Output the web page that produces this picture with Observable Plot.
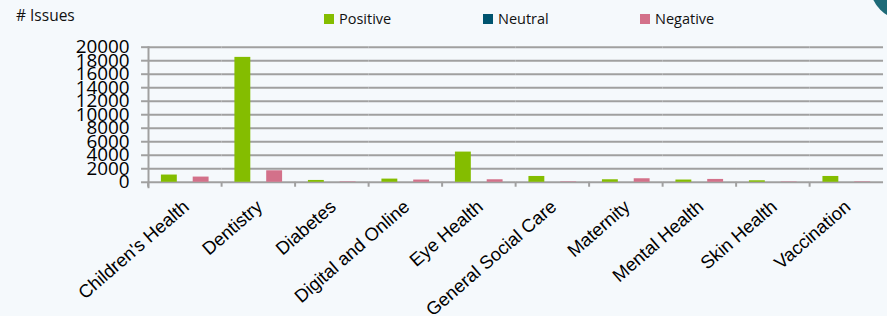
<!DOCTYPE html>
<html>
<head>
<meta charset="utf-8">
<script src="https://cdn.jsdelivr.net/npm/d3@7"></script>
<script src="https://cdn.jsdelivr.net/npm/@observablehq/plot@0.6"></script>
<style>
  html, body { margin: 0; padding: 0; background: #f5f9fc; }
  #wrap { position: relative; width: 887px; height: 316px; overflow: hidden; background: #f5f9fc; }
  #ylabel { position: absolute; left: 16px; top: 4px; font: 15.5px "Open Sans", sans-serif; color: #111; }
  .leg { position: absolute; top: 9px; font: 14.5px "Open Sans", sans-serif; color: #111; display: flex; align-items: center; }
  .leg span.sw { display: inline-block; width: 10px; height: 10px; margin-right: 5px; }
  #blob { position: absolute; left: 870px; top: -50px; width: 70px; height: 70px; border-radius: 50%; background: #1e6b78; }
  #chart { position: absolute; left: 0; top: 0; }
</style>
</head>
<body>
<div id="wrap">
  <div id="ylabel"># Issues</div>
  <div id="legend"></div>
  <div id="chart"></div>
  <div id="blob"></div>
</div>
<script>
const categories = ["Children's Health", "Dentistry", "Diabetes", "Digital and Online", "Eye Health", "General Social Care", "Maternity", "Mental Health", "Skin Health", "Vaccination"];
const series = ["Positive", "Neutral", "Negative"];
const positive = [1070, 18490, 270, 470, 4470, 860, 370, 330, 220, 860];
const neutral  = [0, 0, 0, 0, 0, 0, 0, 0, 0, 0];
const negative = [770, 1700, 60, 330, 370, 60, 520, 420, 50, 60];
const colors = ["#84bd00", "#00546f", "#d3718a"];
const yTicks = [0, 2000, 4000, 6000, 8000, 10000, 12000, 14000, 16000, 18000, 20000];

const rows = [];
const vals = [positive, neutral, negative];
categories.forEach((c, i) => series.forEach((s, j) => rows.push({category: c, series: s, value: vals[j][i]})));

// legend
const legend = document.getElementById("legend");
const legX = [324, 483, 640];
series.forEach((s, j) => {
  const d = document.createElement("div");
  d.className = "leg";
  d.style.left = legX[j] + "px";
  d.innerHTML = `<span class="sw" style="background:${colors[j]}"></span>${s}`;
  legend.appendChild(d);
});

const W = 893, ML = 145, MR = 0;
const step = (W - ML - MR) / categories.length;
const gray = "#a0a0a0";

const chart = Plot.plot({
  width: W,
  height: 316,
  marginLeft: ML,
  marginRight: MR,
  marginTop: 47,
  marginBottom: 133,
  style: {background: "transparent", overflow: "visible"},
  fx: {domain: categories, padding: 0, label: null},
  x: {domain: series, paddingInner: 0, paddingOuter: 0.7, axis: null},
  y: {domain: [0, 20000], axis: null},
  color: {domain: series, range: colors},
  marks: [
    Plot.ruleY(yTicks, {stroke: gray, strokeWidth: 2}),
    Plot.frame({facet: "super", anchor: "left", stroke: gray, strokeWidth: 2, insetBottom: -5}),
    Plot.axisY({ticks: yTicks, tickSize: 7, tickPadding: 12, stroke: gray, strokeWidth: 2, fill: "#000", fontSize: 19, fontFamily: "Open Sans", label: null, tickFormat: d => String(d)}),
    Plot.axisFx({anchor: "bottom", text: null, tickSize: 5, dx: -step / 2, stroke: gray, strokeWidth: 2, label: null}),
    Plot.axisFx({anchor: "bottom", tickSize: 0, tickRotate: -41, tickPadding: 22, dx: 1, fontSize: 18.5, fontFamily: "Liberation Sans", fill: "#000", label: null}),
    Plot.barY(rows, {fx: "category", x: "series", y: "value", fill: "series"})
  ]
});
document.getElementById("chart").appendChild(chart);
</script>
</body>
</html>
